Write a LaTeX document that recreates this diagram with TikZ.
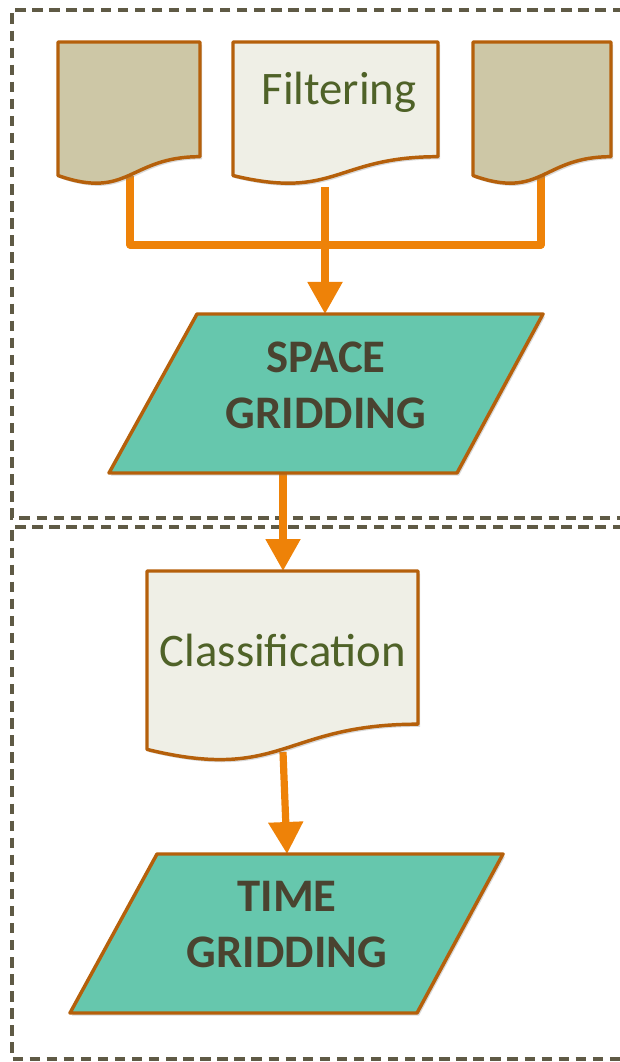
\documentclass[tikz,border=0pt]{standalone}
\usepackage{fontspec}
\setmainfont{Carlito}
\usetikzlibrary{arrows.meta,shadows}

\definecolor{framecol}{HTML}{5F5A45}
\definecolor{flowcol}{HTML}{EE8208}
\definecolor{edgecol}{HTML}{B5600B}
\definecolor{tanfill}{HTML}{CDC7A6}
\definecolor{paperfill}{HTML}{EFEFE6}
\definecolor{tealfill}{HTML}{66C7AD}
\definecolor{darktext}{HTML}{4A4330}
\definecolor{greentext}{HTML}{4F6228}

% document symbol: top-left corner (#1,#2), right edge #3, height #4
\newcommand{\docpath}[4]{%
  (#1,#2) -- (#3,#2) -- (#3,#2+0.802*#4)
  .. controls ({(#1+#3)/2},#2+0.802*#4) and ({(#1+#3)/2},#2+1.1075*#4) ..
  (#1,#2+0.934*#4) -- cycle}

\begin{document}
\begin{tikzpicture}[x=0.75pt,y=-0.75pt,
  framebox/.style={draw=framecol,line width=2.6pt,dash pattern=on 7.8pt off 5pt},
  flow/.style={draw=flowcol,line width=5.4pt,line join=round},
  flowarrow/.style={flow,-{Triangle[length=24pt,width=25pt]}},
  shapeedge/.style={draw=edgecol,line width=2.6pt,line join=round,
    drop shadow={shadow xshift=1.5pt,shadow yshift=-2pt,opacity=0.3}},
  doclabel/.style={font=\fontsize{35}{42}\selectfont,text=greentext,inner sep=0pt},
  gridlabel/.style={font=\bfseries\fontsize{35}{41.5}\selectfont,text=darktext,
    align=center,inner sep=0pt}]

\useasboundingbox (0,0) rectangle (620,1062);

% dashed group frames, running off the right edge
\begin{scope}
  \clip (0,0) rectangle (620,1062);
  \draw[framebox] (640,10) -- (12,10) -- (12,518) -- (640,518);
  \draw[framebox] (640,527) -- (12,527) -- (12,1059) -- (640,1059);
\end{scope}

% connection points
\coordinate (docL-out) at (130,176);
\coordinate (docM-out) at (325,187);
\coordinate (docR-out) at (541,176);
\coordinate (bus-L) at (130,245);
\coordinate (bus-M) at (325,245);
\coordinate (bus-R) at (541,245);
\coordinate (space-top) at (325,314);
\coordinate (space-bot) at (283,472);
\coordinate (class-top) at (283,571);
\coordinate (class-bot) at (283,752);
\coordinate (time-top) at (287,854);

% connectors (drawn below the shapes)
\draw[flow] (docL-out) -- (bus-L) -- (bus-R) -- (docR-out);
\draw[flowarrow] (docM-out) -- (space-top);
\draw[flowarrow] (space-bot) -- (class-top);
\draw[flowarrow] (class-bot) -- (time-top);

% input documents
\path[shapeedge,fill=tanfill] \docpath{58}{42}{200}{143};
\path[shapeedge,fill=paperfill] \docpath{233}{42}{438}{143};
\path[shapeedge,fill=tanfill] \docpath{473}{42}{611}{143};
\node[doclabel,anchor=base] (filtering) at (339,105) {Filtering};

% space gridding
\path[shapeedge,fill=tealfill] (197,314) -- (543,314) -- (457,473) -- (109,473) -- cycle;
\node[gridlabel] (spacegrid) at (326,385.5) {SPACE\\GRIDDING};

% classification document
\path[shapeedge,fill=paperfill] \docpath{147}{571}{418}{191};
\node[doclabel,anchor=base] (classification) at (283,666) {Classification};

% time gridding
\path[shapeedge,fill=tealfill] (157,854) -- (503,854) -- (417,1013) -- (70,1013) -- cycle;
\node[gridlabel] (timegrid) at (287,924.5) {TIME\\GRIDDING};

\end{tikzpicture}
\end{document}
